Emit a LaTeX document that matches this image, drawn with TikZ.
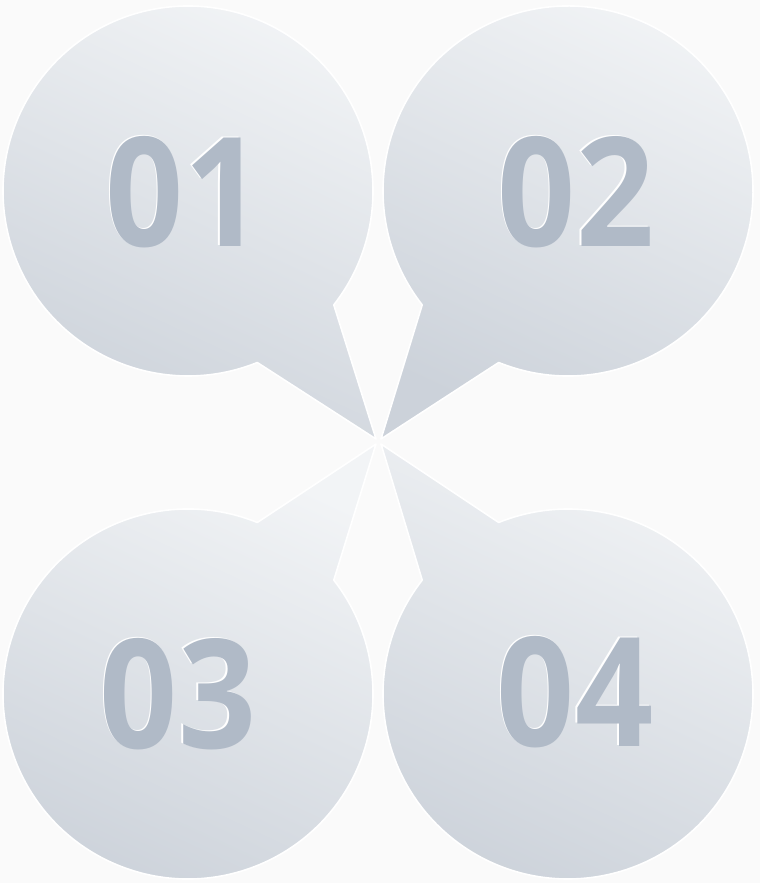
\documentclass[tikz,border=0pt]{standalone}
\usepackage{fontspec}
\setmainfont{Open Sans}
\usetikzlibrary{calc}
\definecolor{bg}{RGB}{250,250,250}
\definecolor{bublight}{RGB}{242,244,246}
\definecolor{bubdark}{RGB}{204,210,218}
\definecolor{digit}{RGB}{176,186,199}
\newcommand{\numfmt}[1]{\scalebox{0.9}[1]{#1}}
\tikzset{
  bubble/.style={top color=bublight, bottom color=bubdark, shading angle=-25, draw=white, line width=1.6pt, line join=round},
  numtext/.style={text=digit, font=\fontsize{152}{152}\selectfont\bfseries, inner sep=0pt},
  numshine/.style={text=white, font=\fontsize{152}{152}\selectfont\bfseries, inner sep=0pt}
}
\begin{document}
\begin{tikzpicture}[x=1pt,y=1pt]
\fill[bg] (0,0) rectangle (760,883);
\useasboundingbox (0,0) rectangle (760,883);
% centres
\coordinate (c1) at (188,692);
\coordinate (c2) at (568,692);
\coordinate (c3) at (188,189);
\coordinate (c4) at (568,189);
\coordinate (tip1) at (376,444);
\coordinate (tip2) at (381,444);
\coordinate (tip3) at (376,439);
\coordinate (tip4) at (381,439);
% bubbles
\shadedraw[bubble] ($(c1)+(-38:185)$) arc[start angle=-38, end angle=292, radius=185] -- (tip1) -- cycle;
\shadedraw[bubble] ($(c2)+(-112:185)$) arc[start angle=-112, end angle=218, radius=185] -- (tip2) -- cycle;
\shadedraw[bubble] ($(c3)+(68:185)$) arc[start angle=68, end angle=398, radius=185] -- (tip3) -- cycle;
\shadedraw[bubble] ($(c4)+(142:185)$) arc[start angle=142, end angle=472, radius=185] -- (tip4) -- cycle;
% numbers
\node[numshine] (s1) at (182.5,692) {\numfmt{01}};
\node[numtext] (t1) at (184,691) {\numfmt{01}};
\node[numshine] (s2) at (574.5,692) {\numfmt{02}};
\node[numtext] (t2) at (576,691) {\numfmt{02}};
\node[numshine] (s3) at (176.5,190) {\numfmt{03}};
\node[numtext] (t3) at (178,189) {\numfmt{03}};
\node[numshine] (s4) at (573.5,192) {\numfmt{04}};
\node[numtext] (t4) at (575,191) {\numfmt{04}};
\end{tikzpicture}
\end{document}
